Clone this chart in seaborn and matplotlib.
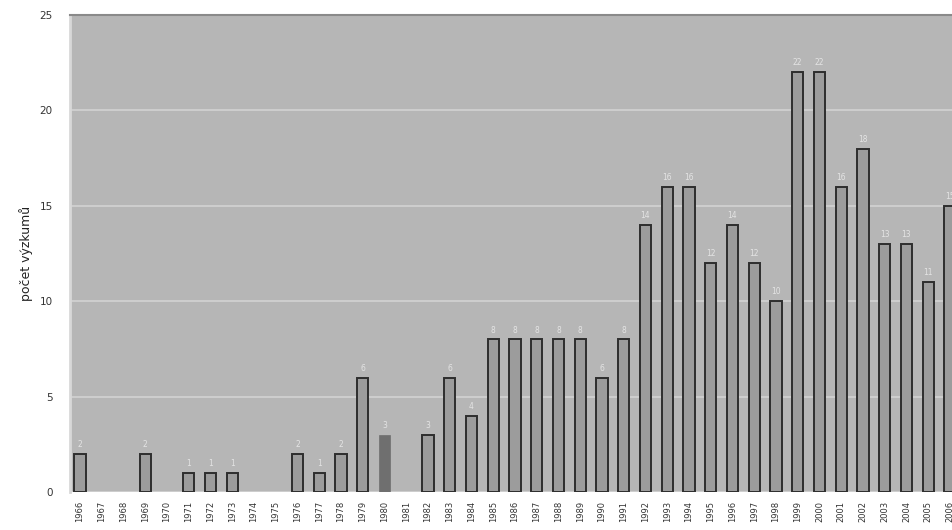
import matplotlib
matplotlib.use("Agg")
import matplotlib.pyplot as plt
import seaborn as sns
import pandas as pd

sns.set_style("white")
plt.rcParams['font.family'] = ['DejaVu Sans']

# years on the x axis (labels are barely legible in the source)
years = ["1966", "1967", "1968", "1969", "1970", "1971", "1972", "1973", "1974", "1975",
         "1976", "1977", "1978", "1979", "1980", "1981", "1982", "1983", "1984", "1985",
         "1986", "1987", "1988", "1989", "1990", "1991", "1992", "1993", "1994", "1995",
         "1996", "1997", "1998", "1999", "2000", "2001", "2002", "2003", "2004", "2005",
         "2006"]
counts = [2, 0, 0, 2, 0, 1, 1, 1, 0, 0,
          2, 1, 2, 6, 3, 0, 3, 6, 4, 8,
          8, 8, 8, 8, 6, 8, 14, 16, 16, 12,
          14, 12, 10, 22, 22, 16, 18, 13, 13, 11,
          15]
highlight = "1980"
y_ticks = [0, 5, 10, 15, 20, 25]
y_label = "počet výzkumů"

df = pd.DataFrame({"rok": years, "pocet": counts})
colors = ["#6f6f6f" if y == highlight else "#9c9c9c" for y in years]

fig = plt.figure(figsize=(9.53, 5.30), dpi=100)
ax = fig.add_axes([70 / 953, 38 / 530, 883 / 953, 477 / 530])
ax.set_facecolor("#b6b6b6")

sns.barplot(data=df, x="rok", y="pocet", hue="rok", palette=colors, legend=False,
            width=0.52, ax=ax, zorder=3)

for patch, y, v in zip(ax.patches, years, counts):
    if v == 0:
        patch.set_linewidth(0)
    elif y == highlight:
        patch.set_edgecolor("#6f6f6f")
        patch.set_linewidth(0.5)
    else:
        patch.set_edgecolor("#2e2e2e")
        patch.set_linewidth(1.4)

# faint value labels above non-empty bars
for i, v in enumerate(counts):
    if v > 0:
        ax.text(i, v + 0.25, str(v), ha="center", va="bottom", fontsize=5.5,
                color="#e4e4e4", zorder=4)

ax.set_xlim(-0.46, 40.14)
ax.set_ylim(0, 25)
ax.set_yticks(y_ticks)
ax.set_yticklabels([str(t) for t in y_ticks], fontsize=7.5, color="#333333")
ax.yaxis.grid(True, color="#d2d2d2", linewidth=1.2, zorder=0)
ax.set_axisbelow(True)
ax.tick_params(axis="x", labelrotation=90, labelsize=6, colors="#333333", pad=3)
ax.tick_params(axis="y", pad=9)
ax.set_xlabel("")
ax.set_ylabel(y_label, fontsize=9, color="#222222")
ax.yaxis.set_label_coords(-0.042, 0.5)

for side in ["right", "bottom"]:
    ax.spines[side].set_visible(False)
ax.spines["top"].set_color("#8a8a8a")
ax.spines["top"].set_linewidth(1.5)
ax.spines["left"].set_color("#d8d8d8")
ax.spines["left"].set_linewidth(2)

fig.savefig("out.png", dpi=100, facecolor="white")
